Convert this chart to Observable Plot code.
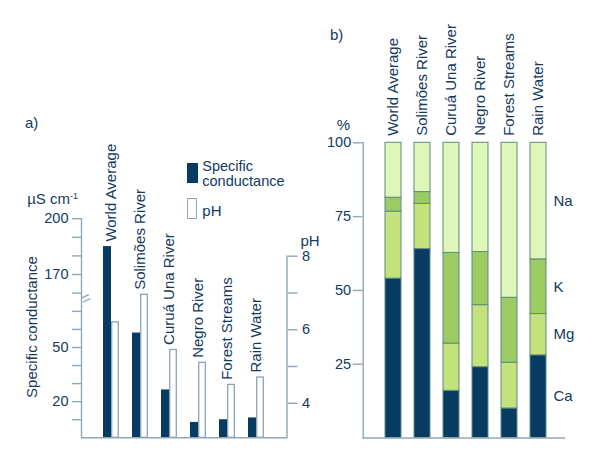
<!DOCTYPE html>
<html><head><meta charset="utf-8">
<script src="https://cdn.jsdelivr.net/npm/d3@7"></script>
<script src="https://cdn.jsdelivr.net/npm/@observablehq/plot@0.6"></script>
<style>
body{margin:0;background:#fff;}
#wrap{position:relative;width:600px;height:462px;overflow:hidden;font-family:"Liberation Sans",Arial,sans-serif;color:#123a5e;background:#fff;}
.lbl{position:absolute;white-space:nowrap;line-height:1;}
#wrap > svg{position:absolute;top:0;}
</style></head><body><div id="wrap"></div>
<script>
// ---- data ----
const locations = ["World Average","Solimões River","Curuá Una River","Negro River","Forest Streams","Rain Water"];
const conductance = [185, 58, 26.5, 8.5, 10, 11];      // µS cm-1
const pH = [6.2, 6.95, 5.45, 5.1, 4.5, 4.7];
const ions = ["Ca","Mg","K","Na"];
const Ca = [54, 64, 16, 24, 10, 28];
const Mg = [22.7, 15.3, 16, 21, 15.5, 14];
const K  = [4.7, 4, 30.7, 18, 22, 18.5];
const Na = [18.6, 16.7, 37.3, 37, 52.5, 39.5];
const condTicks = [10,20,30,40,50,60,70,160,170,180,190,200];
const condLabels = [20,50,170,200];
const pHTicks = [4,5,6,7,8];
const pHLabels = [4,6,8];
const pctTicks = [25,50,75,100];

// ---- styles ----
const navy = "#073b61", txt = "#123a5e", axisC = "#8fa7b9";
const ionColors = ["#073b61","#c3e27c","#9dcb63","#def7b9"];
const font = "Liberation Sans, Arial, sans-serif";
const LS = 15, TS = 14.5;

// broken conductance axis and secondary pH axis mapped onto one position scale
const condPos = v => v <= 100 ? v : 90.4 + (v - 170) * 1.03;
const pHPos = p => (p - 3.06) * 20.35;
const breakAt = 76;
const yTop = condPos(200);

const A = {width: 320, height: 462, mt: 218.2, mb: 24.7, ml: 81, mr: 33.5};
const pxPerUnit = (A.height - A.mt - A.mb) / yTop;

const rowsA = locations.map((loc, i) => ({loc, cond: conductance[i], pH: pH[i]}));
const condLabelMap = new Map(condTicks.map(v => [condPos(v), condLabels.includes(v) ? String(v) : ""]));
const pHLabelMap = new Map(pHTicks.map(v => [pHPos(v), pHLabels.includes(v) ? String(v) : ""]));

const plotA = Plot.plot({
  width: A.width, height: A.height,
  marginLeft: A.ml, marginRight: A.mr, marginTop: A.mt, marginBottom: A.mb,
  style: {background: "transparent", fontFamily: font, fontSize: "14px", color: txt, overflow: "visible"},
  x: {type: "band", domain: locations, paddingInner: 0.462, paddingOuter: 0.694, axis: null},
  y: {domain: [0, yTop], axis: null},
  marks: [
    Plot.barY(rowsA, {x: "loc", y: d => condPos(d.cond), fill: navy, insetRight: 8}),
    Plot.barY(rowsA, {x: "loc", y: d => pHPos(d.pH), fill: "white", stroke: "#8aa4b9", strokeWidth: 1.3, insetLeft: 8.7, insetRight: 0.7}),
    Plot.ruleY([0], {stroke: axisC, strokeWidth: 1.4}),
    Plot.frame({anchor: "left", stroke: axisC, strokeWidth: 1.4}),
    Plot.frame({anchor: "right", stroke: axisC, strokeWidth: 1.4, insetTop: (yTop - pHPos(8)) * pxPerUnit}),
    Plot.axisY({anchor: "left", ticks: condTicks.map(condPos), tickFormat: d => condLabelMap.get(d), tickSize: 9, tickPadding: 4, stroke: axisC, strokeWidth: 1.4, fill: txt, fontSize: TS, label: null}),
    Plot.axisY({anchor: "right", ticks: pHTicks.map(pHPos), tickFormat: d => pHLabelMap.get(d), tickSize: 10, tickPadding: 5, stroke: axisC, strokeWidth: 1.4, fill: txt, fontSize: TS, label: null}),
    Plot.text([breakAt], {y: d => d, frameAnchor: "left", text: () => "=", rotate: -25, fontSize: 17, fill: axisC}),
    Plot.text(rowsA, {x: "loc", y: d => Math.max(condPos(d.cond), pHPos(d.pH)), text: "loc", rotate: -90, textAnchor: "start", dy: -5, fontSize: LS, fill: txt})
  ]
});

const rowsB = locations.flatMap((loc, i) => ions.map((ion, j) => ({loc, ion, value: [Ca, Mg, K, Na][j][i]})));

const plotB = Plot.plot({
  width: 280, height: 462,
  marginLeft: 42.7, marginRight: 35, marginTop: 142.3, marginBottom: 24.5,
  style: {background: "transparent", fontFamily: font, fontSize: "14px", color: txt, overflow: "visible"},
  x: {type: "band", domain: locations, paddingInner: 0.46, paddingOuter: 0.634, align: 0.544, axis: null},
  y: {domain: [0, 100], axis: null},
  color: {domain: ions, range: ionColors},
  marks: [
    Plot.barY(rowsB, {x: "loc", y: "value", z: "ion", fill: "ion", order: ions, stroke: "#5d8b80", strokeWidth: 1}),
    Plot.ruleY([0], {stroke: axisC, strokeWidth: 1.4}),
    Plot.frame({anchor: "left", stroke: axisC, strokeWidth: 1.4}),
    Plot.axisY({anchor: "left", ticks: pctTicks, tickSize: 10, tickPadding: 2, stroke: axisC, strokeWidth: 1.4, fill: txt, fontSize: TS, label: null}),
    Plot.text(locations, {x: d => d, y: () => 100, text: d => d, rotate: -90, textAnchor: "start", dy: -7, fontSize: LS, fill: txt}),
    Plot.text(rowsB.filter(d => d.loc === locations[locations.length - 1]),
      Plot.stackY({x: "loc", y: "value", z: "ion", order: ions, text: "ion", textAnchor: "start", dx: 15, fontSize: LS, fill: txt}))
  ]
});

const wrap = document.getElementById("wrap");
plotA.style.left = "0px";
plotB.style.left = "320px";
wrap.appendChild(plotA);
wrap.appendChild(plotB);

function addText(html, x, baseline, {size = LS, anchor = "start"} = {}) {
  const d = document.createElement("div");
  d.className = "lbl";
  d.innerHTML = html;
  d.style.fontSize = size + "px";
  d.style.top = (baseline - 0.8465 * size) + "px";
  if (anchor === "end") d.style.right = (600 - x) + "px"; else d.style.left = x + "px";
  wrap.appendChild(d);
  return d;
}
addText("a)", 25, 128);
addText("b)", 330, 40);
addText("%", 350, 130, {anchor: "end"});
addText("pH", 300.5, 246);
addText('µS cm<span style="font-size:9px;position:relative;top:-5px">-1</span>', 78, 204, {anchor: "end"});
const yl = document.createElement("div");
yl.className = "lbl";
yl.textContent = "Specific conductance";
Object.assign(yl.style, {fontSize: LS + "px", left: "31px", top: "326.7px", transform: "translate(-50%,-50%) rotate(-90deg)"});
wrap.appendChild(yl);

// legend
const sw1 = document.createElement("div");
Object.assign(sw1.style, {position: "absolute", left: "187px", top: "162.5px", width: "10.5px", height: "20.2px", background: navy});
wrap.appendChild(sw1);
const sw2 = document.createElement("div");
Object.assign(sw2.style, {position: "absolute", left: "187.3px", top: "198.3px", width: "9.6px", height: "21px", background: "#fff", border: "1.3px solid #8aa4b9", boxSizing: "border-box"});
wrap.appendChild(sw2);
addText("Specific", 202.3, 171, {size: 14.5});
addText("conductance", 202.3, 185.8, {size: 14.5});
addText("pH", 202.3, 216);
</script></body></html>
